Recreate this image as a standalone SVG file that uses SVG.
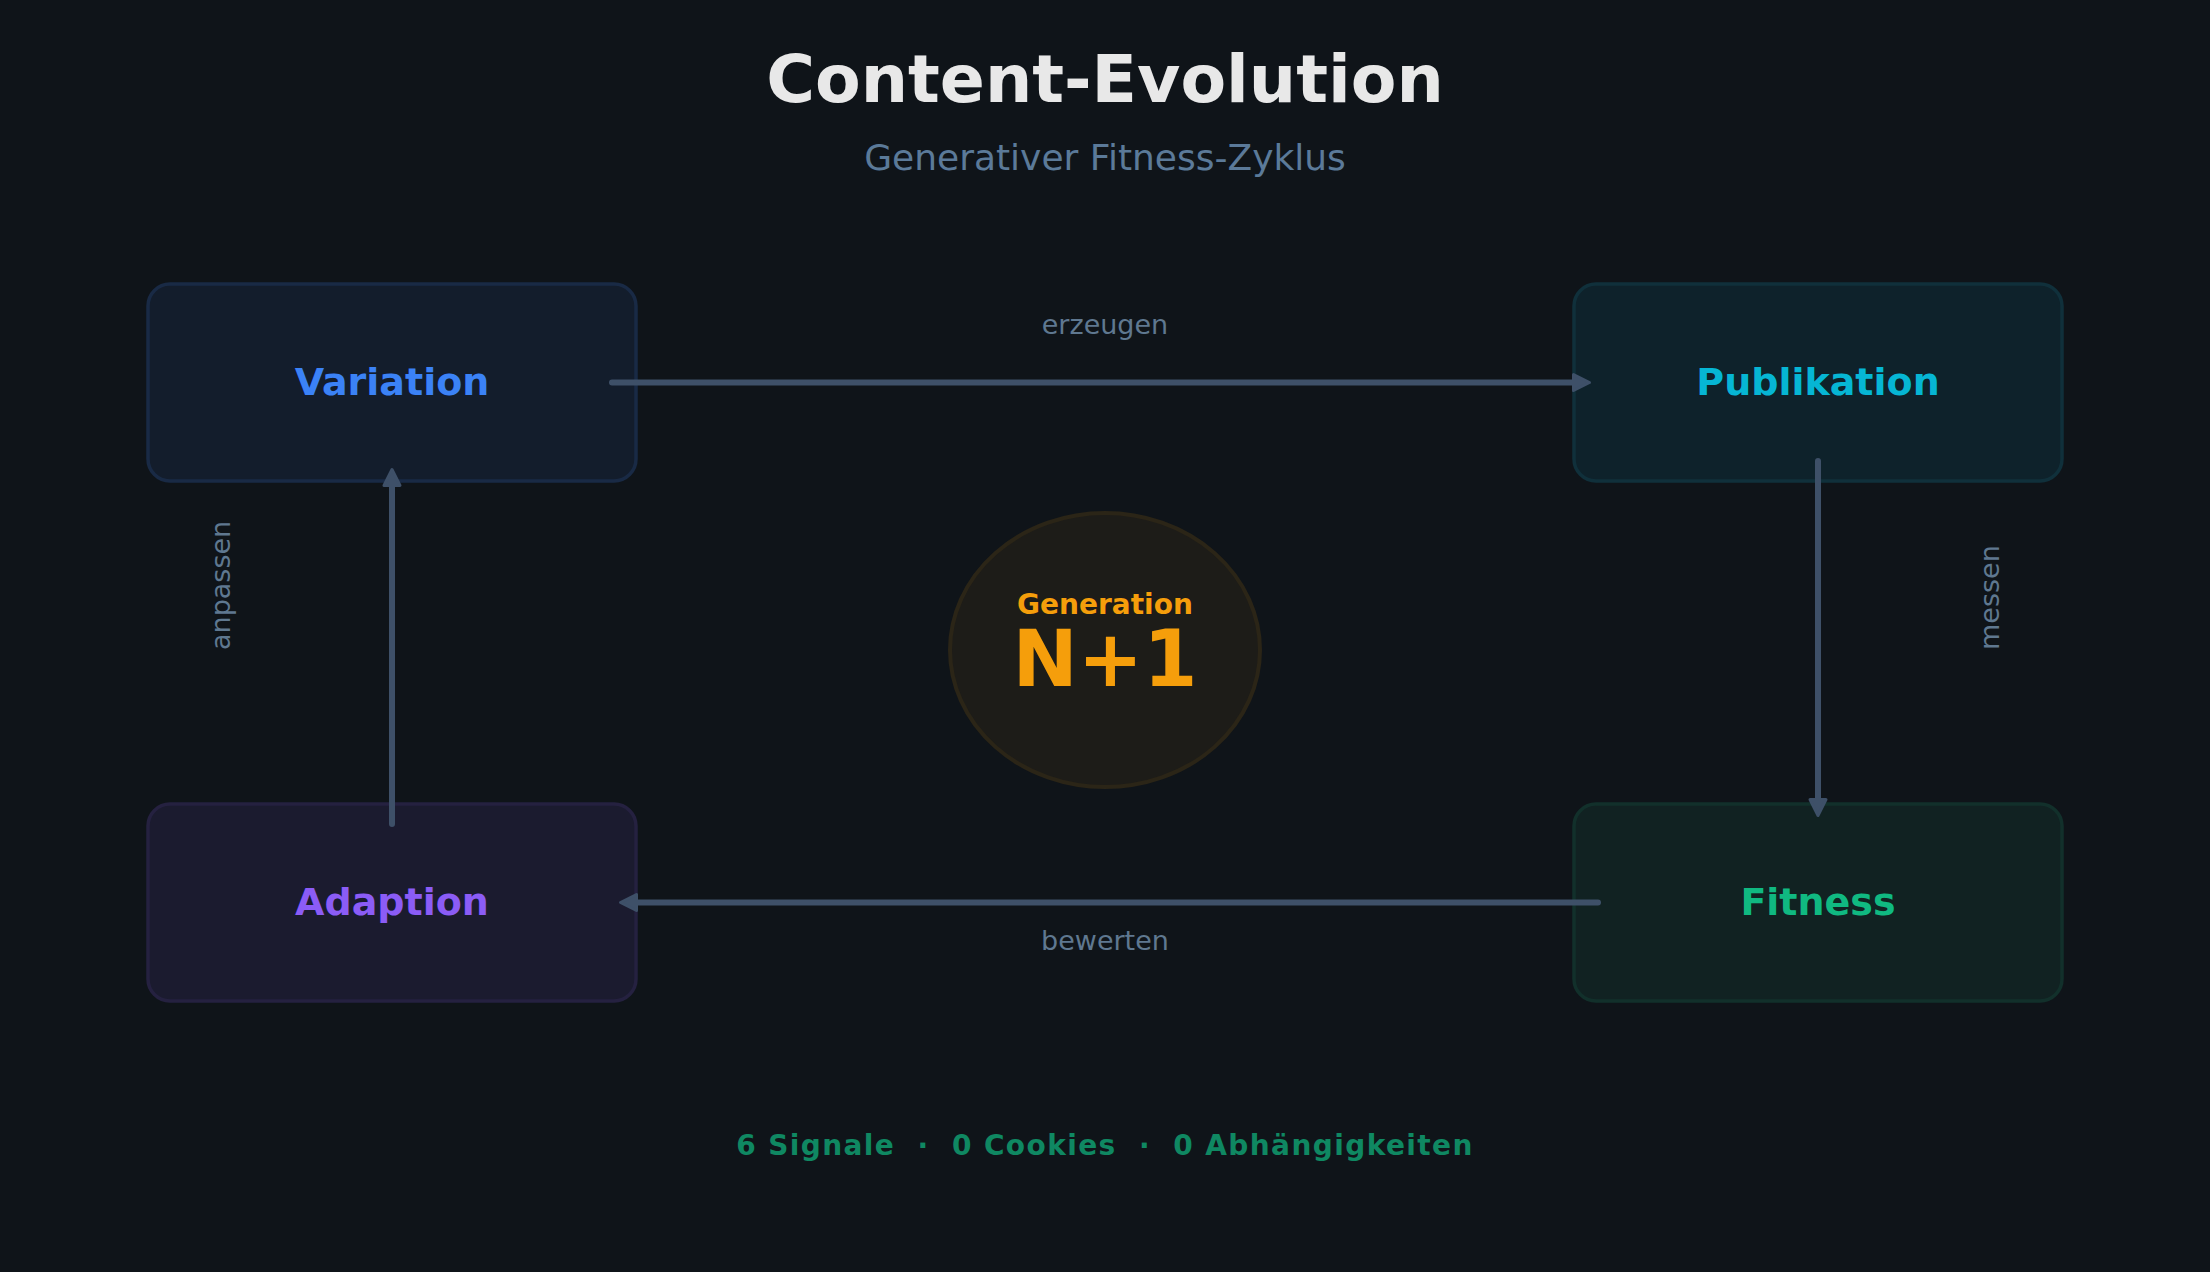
<svg xmlns="http://www.w3.org/2000/svg" width="2210" height="1272" viewBox="0 0 2210 1272">
  <defs>
    <style>
      text { font-family: "DejaVu Sans", Verdana, sans-serif; }
      .title { font-size: 66.5px; font-weight: bold; fill: #e8e8e8; text-anchor: middle; }
      .subtitle { font-size: 36px; fill: #5b7a99; text-anchor: middle; }
      .node rect { stroke-width: 3.5; }
      .nlabel { font-size: 38px; font-weight: bold; text-anchor: middle; }
      .elabel { font-size: 27px; fill: #5f7890; }
      .conn line { stroke: #3e5068; stroke-width: 6; stroke-linecap: round; fill: none; marker-end: url(#arrow); }
      .footer { font-size: 28px; font-weight: bold; fill: #0f8862; text-anchor: middle; white-space: pre; letter-spacing: 1.4px; }
    </style>
    <marker id="arrow" markerUnits="userSpaceOnUse" markerWidth="22" markerHeight="22" viewBox="0 0 22 22" refX="8" refY="11" orient="auto">
      <path d="M2,3 L18,11 L2,19 Z" fill="#3e5068" stroke="#3e5068" stroke-width="3" stroke-linejoin="round"/>
    </marker>
  </defs>

  <rect x="0" y="0" width="2210" height="1272" fill="#0f1419"/>

  <text class="title" x="1105" y="102">Content-Evolution</text>
  <text class="subtitle" x="1105" y="170">Generativer Fitness-Zyklus</text>

  <g id="node-variation" class="node">
    <rect x="148" y="284" width="488" height="197" rx="22" fill="#131d2c" stroke="#192a45"/>
    <text class="nlabel" x="392" y="395" fill="#3b82f6">Variation</text>
  </g>
  <g id="node-publikation" class="node">
    <rect x="1574" y="284" width="488" height="197" rx="22" fill="#0e222b" stroke="#10303b"/>
    <text class="nlabel" x="1818" y="395" fill="#06b6d4">Publikation</text>
  </g>
  <g id="node-fitness" class="node">
    <rect x="1574" y="804" width="488" height="197" rx="22" fill="#112222" stroke="#12302b"/>
    <text class="nlabel" x="1818" y="915" fill="#10b981">Fitness</text>
  </g>
  <g id="node-adaption" class="node">
    <rect x="148" y="804" width="488" height="197" rx="22" fill="#1b1b2f" stroke="#252140"/>
    <text class="nlabel" x="392" y="915" fill="#8b5cf6">Adaption</text>
  </g>

  <g id="node-generation">
    <ellipse cx="1105" cy="650" rx="155" ry="137" fill="#1d1c18" stroke="#2b2517" stroke-width="4"/>
    <text x="1105" y="614" font-size="28" font-weight="bold" fill="#f59e0b" text-anchor="middle">Generation</text>
    <text x="1105" y="686" font-size="78" font-weight="bold" fill="#f59e0b" text-anchor="middle">N+1</text>
  </g>

  <g id="connectors" class="conn">
    <line x1="612" y1="382.5" x2="1579.5" y2="382.5"/>
    <line x1="1818" y1="461" x2="1818" y2="805.5"/>
    <line x1="1598" y1="902.5" x2="630.5" y2="902.5"/>
    <line x1="392" y1="824" x2="392" y2="479.5"/>
  </g>

  <g id="connector-labels">
    <text class="elabel" x="1105" y="334" text-anchor="middle">erzeugen</text>
    <text class="elabel" x="1105" y="950" text-anchor="middle">bewerten</text>
    <text class="elabel" transform="translate(230,650) rotate(-90)" x="0" y="0">anpassen</text>
    <text class="elabel" transform="translate(1999,650) rotate(-90)" x="0" y="0">messen</text>
  </g>

  <text class="footer" x="1105" y="1155" xml:space="preserve">6 Signale  ·  0 Cookies  ·  0 Abhängigkeiten</text>
</svg>
